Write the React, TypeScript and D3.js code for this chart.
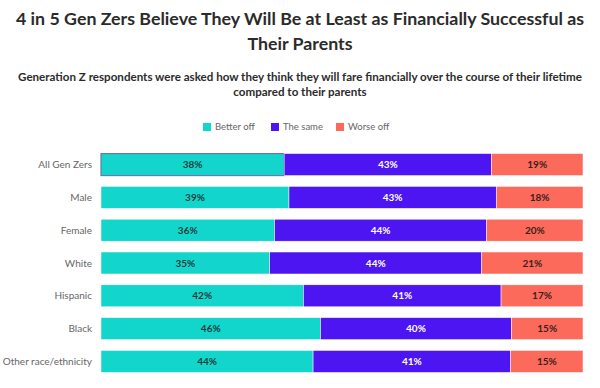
import React from "react";
import * as d3 from "d3";

const categories = ["All Gen Zers", "Male", "Female", "White", "Hispanic", "Black", "Other race/ethnicity"];
const betterOff = [38, 39, 36, 35, 42, 46, 44];
const theSame = [43, 43, 44, 44, 41, 40, 41];
const worseOff = [19, 18, 20, 21, 17, 15, 15];
const seriesNames = ["Better off", "The same", "Worse off"];
const seriesColors = ["#12d6cb", "#4d15f2", "#fc6a5c"];
const labelColors = ["#1f3d3a", "#ffffff", "#3a1f1b"];

const W = 600;
const H = 388;
const FONT = "Lato, 'Open Sans', sans-serif";

export default function App() {
  const values = [betterOff, theSame, worseOff];
  const x0 = 101;
  const x1 = 583;
  const y = d3.scaleBand().domain(categories).range([148, 378]).paddingInner(0.33).paddingOuter(0.17);
  const legendX = [203, 271, 336];

  return (
    <svg width={W} height={H} style={{ position: "absolute", left: 0, top: 0, background: "#fff" }} fontFamily={FONT}>
      <text x={300} y={25} textAnchor="middle" fontSize={17.8} fontWeight={700} fill="#2b2b2b">
        4 in 5 Gen Zers Believe They Will Be at Least as Financially Successful as
      </text>
      <text x={300} y={50} textAnchor="middle" fontSize={17.8} fontWeight={700} fill="#2b2b2b">
        Their Parents
      </text>
      <text x={300} y={81} textAnchor="middle" fontSize={11.6} fontWeight={700} fill="#2b2b2b">
        Generation Z respondents were asked how they think they will fare financially over the course of their lifetime
      </text>
      <text x={300} y={96} textAnchor="middle" fontSize={11.6} fontWeight={700} fill="#2b2b2b">
        compared to their parents
      </text>

      {seriesNames.map((s, i) => (
        <g key={s} transform={`translate(${legendX[i]},127)`}>
          <rect x={0} y={-4} width={8} height={8} fill={seriesColors[i]} />
          <text x={12} y={0} dy="0.35em" fontSize={9.5} fill="#666">{s}</text>
        </g>
      ))}

      {categories.map((c, r) => {
        const total = betterOff[r] + theSame[r] + worseOff[r];
        const x = d3.scaleLinear().domain([0, total]).range([x0, x1]);
        const stack = d3.cumsum([0, ...values.map((v) => v[r])]);
        const yy = y(c)!;
        const bh = y.bandwidth();
        return (
          <g key={c}>
            <text x={92} y={yy + bh / 2} dy="0.35em" textAnchor="end" fontSize={10} fill="#666">{c}</text>
            {values.map((v, i) => {
              const a = x(stack[i]);
              const b = x(stack[i + 1]);
              return (
                <g key={i}>
                  <rect x={a} y={yy} width={b - a} height={bh} fill={seriesColors[i]}
                    stroke={r === 0 && i === 0 ? "#6a78b0" : "#ffffff"} strokeWidth={r === 0 && i === 0 ? 1.2 : 0.5} />
                  <text x={(a + b) / 2} y={yy + bh / 2} dy="0.35em" textAnchor="middle" fontSize={10} fontWeight={700} fill={labelColors[i]}>
                    {v[r]}%
                  </text>
                </g>
              );
            })}
          </g>
        );
      })}
    </svg>
  );
}
